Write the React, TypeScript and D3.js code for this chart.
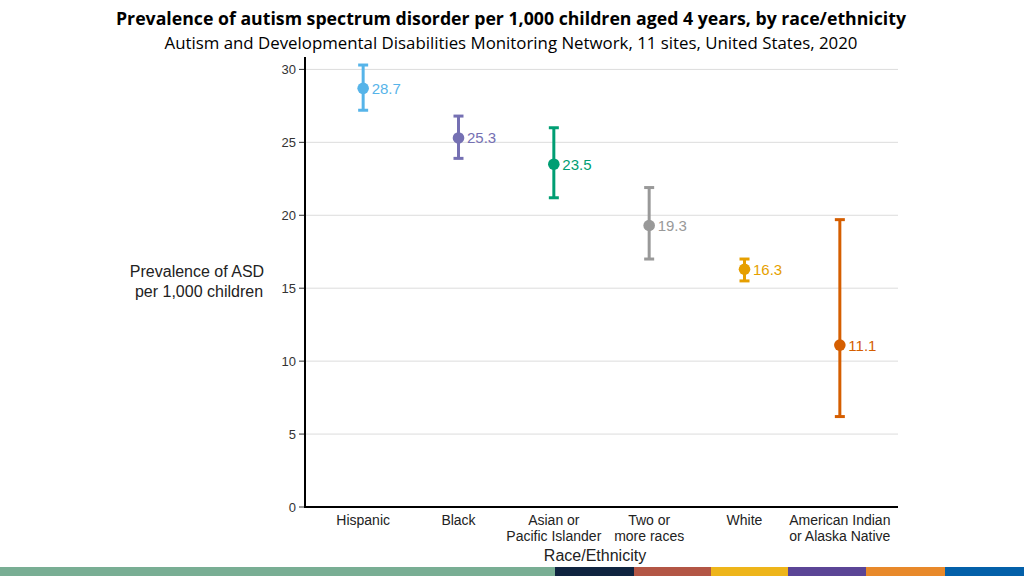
import React from "react";
import * as d3 from "d3";

const categories = [
  ["Hispanic"],
  ["Black"],
  ["Asian or", "Pacific Islander"],
  ["Two or", "more races"],
  ["White"],
  ["American Indian", "or Alaska Native"],
];
const prevalence = [28.7, 25.3, 23.5, 19.3, 16.3, 11.1];
const ciLow = [27.2, 23.9, 21.2, 17.0, 15.5, 6.2];
const ciHigh = [30.3, 26.8, 26.0, 21.9, 17.0, 19.7];
const colors = ["#56B4E9", "#7570B3", "#009E73", "#999999", "#E69F00", "#D55E00"];
const yTicks = [0, 5, 10, 15, 20, 25, 30];
const stripColors = ["#79AE94", "#0F2440", "#B35645", "#EEB51A", "#5B4596", "#E8892A", "#0460A9"];
const stripStops = [0, 555, 634, 711, 788, 866, 945, 1024];

export default function App() {
  const x = d3
    .scalePoint<number>()
    .domain(d3.range(categories.length))
    .range([305, 898])
    .padding(0.61);
  const y = d3.scaleLinear().domain([0, 30.85]).range([507, 57]);
  const arial = "'Liberation Sans', Arial, sans-serif";
  const calibri = "'Open Sans', 'Noto Sans', sans-serif";
  return (
    <svg
      width={1024}
      height={576}
      style={{ position: "fixed", left: 0, top: 0, background: "#fff" }}
    >
      <rect x={0} y={0} width={1024} height={576} fill="#fff" />
      <text x={511} y={25} textAnchor="middle" fontFamily={calibri} fontWeight="bold" fontSize={17} textLength={790} lengthAdjust="spacingAndGlyphs" fill="#000">
        Prevalence of autism spectrum disorder per 1,000 children aged 4 years, by race/ethnicity
      </text>
      <text x={511} y={49} textAnchor="middle" fontFamily={calibri} fontSize={16} textLength={693} lengthAdjust="spacingAndGlyphs" fill="#000">
        Autism and Developmental Disabilities Monitoring Network, 11 sites, United States, 2020
      </text>

      {/* gridlines */}
      {yTicks.map((t) => (
        <line key={"g" + t} x1={305} x2={898} y1={y(t)} y2={y(t)} stroke="#dcdcdc" strokeWidth={1} />
      ))}
      {/* y ticks */}
      {yTicks.map((t) => (
        <g key={"t" + t}>
          <line x1={299} x2={305} y1={y(t)} y2={y(t)} stroke="#333" strokeWidth={1} />
          <text x={296} y={y(t) + 4.5} textAnchor="end" fontFamily={arial} fontSize={13} fill="#333">
            {t}
          </text>
        </g>
      ))}
      {/* axes */}
      <line x1={305} x2={305} y1={y(30.85)} y2={y(0) + 1} stroke="#000" strokeWidth={2} />
      <line x1={304} x2={898} y1={y(0)} y2={y(0)} stroke="#000" strokeWidth={2} />

      {/* y label */}
      <text x={197} y={277} textAnchor="middle" fontFamily={arial} fontSize={16} fill="#222">
        Prevalence of ASD
      </text>
      <text x={199} y={297} textAnchor="middle" fontFamily={arial} fontSize={16} fill="#222">
        per 1,000 children
      </text>

      {/* x labels */}
      {categories.map((lines, i) => (
        <text key={"x" + i} textAnchor="middle" fontFamily={arial} fontSize={14} fill="#222">
          {lines.map((l, j) => (
            <tspan key={j} x={x(i)} y={525 + j * 16}>
              {l}
            </tspan>
          ))}
        </text>
      ))}
      <text x={595} y={561} textAnchor="middle" fontFamily={arial} fontSize={16} fill="#222">
        Race/Ethnicity
      </text>

      {/* error bars and points */}
      {prevalence.map((v, i) => {
        const cx = x(i)!;
        const c = colors[i];
        return (
          <g key={"p" + i}>
            <line x1={cx} x2={cx} y1={y(ciLow[i])} y2={y(ciHigh[i])} stroke={c} strokeWidth={3} />
            <line x1={cx - 5} x2={cx + 5} y1={y(ciLow[i])} y2={y(ciLow[i])} stroke={c} strokeWidth={3} />
            <line x1={cx - 5} x2={cx + 5} y1={y(ciHigh[i])} y2={y(ciHigh[i])} stroke={c} strokeWidth={3} />
            <circle cx={cx} cy={y(v)} r={5.8} fill={c} />
            <text x={cx + 8.5} y={y(v) + 5.5} fontFamily={arial} fontSize={15} fill={c}>
              {v.toFixed(1)}
            </text>
          </g>
        );
      })}

      {/* bottom colour strip */}
      {stripColors.map((c, i) => (
        <rect key={"s" + i} x={stripStops[i]} y={567} width={stripStops[i + 1] - stripStops[i]} height={9} fill={c} />
      ))}
    </svg>
  );
}
